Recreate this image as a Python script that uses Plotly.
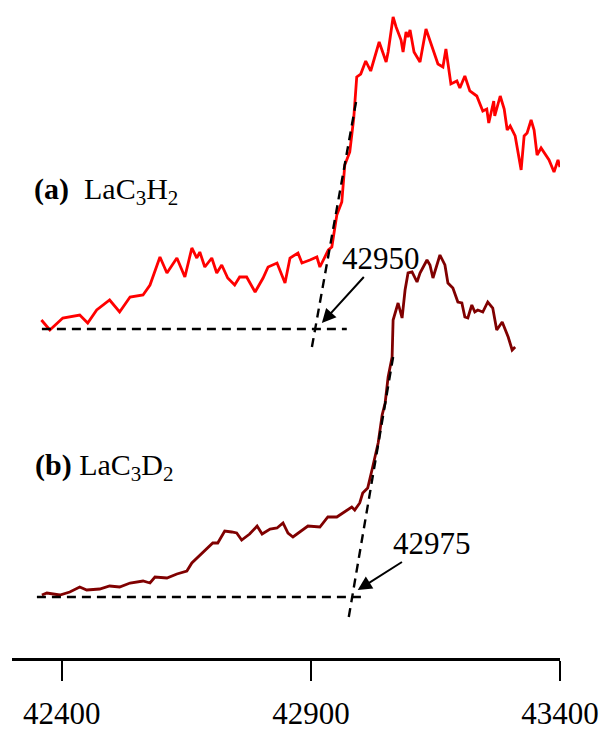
import plotly.graph_objects as go

# ---- data (wavenumber, cm^-1 ; intensity, arb. units) ----
a_x = [42359, 42376, 42402, 42436, 42452, 42470, 42496, 42516, 42537, 42563, 42577, 42597,
       42611, 42631, 42647, 42661, 42671, 42677, 42687, 42701, 42711, 42721, 42733, 42747,
       42757, 42771, 42788, 42804, 42814, 42832, 42848, 42858, 42874, 42882, 42898, 42912,
       42918, 42935, 42942, 42952, 42962, 42968, 42978, 42986, 42992, 43000, 43010, 43020,
       43037, 43051, 43055, 43065, 43071, 43081, 43085, 43091, 43095, 43099, 43107, 43119,
       43131, 43141, 43155, 43165, 43171, 43181, 43193, 43199, 43209, 43219, 43233, 43245,
       43253, 43257, 43267, 43269, 43280, 43288, 43294, 43300, 43310, 43322, 43328, 43334,
       43342, 43348, 43354, 43362, 43368, 43378, 43388, 43396, 43400]
a_y = [33.8, 32.8, 34.0, 34.3, 33.5, 34.8, 35.8, 34.6, 36.1, 36.3, 37.3, 40.1,
       38.5, 40.0, 38.1, 41.0, 40.0, 40.6, 39.1, 40.0, 38.5, 39.3, 38.0, 37.3,
       38.1, 38.1, 36.6, 38.0, 39.1, 39.5, 37.5, 40.0, 40.5, 39.5, 39.8, 40.1,
       39.1, 40.8, 41.1, 44.3, 45.6, 49.3, 50.6, 54.0, 58.1, 58.4, 59.7, 58.7,
       61.6, 59.6, 60.6, 64.1, 63.1, 61.8, 60.6, 62.6, 62.1, 62.8, 60.6, 59.6,
       62.9, 61.4, 59.4, 59.1, 60.9, 57.4, 57.7, 57.0, 58.2, 56.7, 56.2, 54.7,
       54.9, 53.5, 55.7, 54.2, 56.2, 54.9, 52.8, 53.2, 52.2, 48.8, 52.2, 52.5,
       53.8, 52.8, 50.3, 51.0, 50.5, 49.8, 48.6, 49.8, 49.1]

b_x = [42360, 42370, 42396, 42416, 42436, 42450, 42476, 42496, 42516, 42537, 42563, 42577,
       42587, 42611, 42631, 42651, 42661, 42677, 42691, 42703, 42713, 42727, 42741, 42751,
       42761, 42777, 42792, 42802, 42818, 42832, 42844, 42854, 42864, 42878, 42894, 42918,
       42934, 42952, 42968, 42982, 42988, 42998, 43004, 43014, 43024, 43035, 43043, 43049,
       43055, 43063, 43065, 43075, 43083, 43089, 43095, 43103, 43113, 43119, 43133, 43139,
       43145, 43159, 43169, 43175, 43185, 43195, 43203, 43209, 43215, 43223, 43229, 43235,
       43245, 43255, 43265, 43273, 43284, 43296, 43304, 43310]
b_y = [6.3, 6.5, 6.3, 6.6, 7.1, 6.8, 6.9, 7.2, 7.1, 7.5, 7.7, 7.5,
       8.1, 8.0, 8.4, 8.7, 9.5, 10.3, 11.0, 11.5, 11.5, 12.7, 12.6, 12.5,
       11.8, 12.4, 13.2, 12.4, 12.9, 13.0, 13.5, 12.5, 12.1, 12.6, 13.2, 13.1,
       14.1, 14.1, 14.6, 15.1, 14.8, 15.5, 16.5, 17.0, 19.1, 21.5, 24.3, 25.5,
       28.1, 30.1, 33.8, 35.5, 34.0, 36.8, 38.5, 38.6, 37.6, 38.5, 39.8, 39.3,
       38.0, 40.3, 39.3, 37.5, 37.0, 35.6, 35.5, 34.1, 34.0, 35.3, 34.6, 34.8,
       34.6, 35.6, 35.0, 32.8, 33.6, 32.1, 30.8, 31.1]

# onset construction lines
a_base_x = [42360, 42972]
a_base_y = [32.9, 32.9]
a_edge_x = [42902, 42992]
a_edge_y = [31.1, 56.0]
b_base_x = [42350, 43008]
b_base_y = [6.1, 6.1]
b_edge_x = [42976, 43065]
b_edge_y = [4.1, 30.1]

onset_a = "42950"
onset_b = "42975"
tick_vals = [42400, 42900, 43400]
tick_text = ["42400", "42900", "43400"]

FONT = "Liberation Serif, Times New Roman, serif"

fig = go.Figure()
fig.add_trace(go.Scatter(x=a_x, y=a_y, mode="lines",
                         line=dict(color="#FF0000", width=2.8), showlegend=False))
fig.add_trace(go.Scatter(x=b_x, y=b_y, mode="lines",
                         line=dict(color="#800000", width=2.8), showlegend=False))
for xs, ys in [(a_base_x, a_base_y), (a_edge_x, a_edge_y), (b_base_x, b_base_y), (b_edge_x, b_edge_y)]:
    fig.add_trace(go.Scatter(x=xs, y=ys, mode="lines",
                             line=dict(color="black", width=2.4, dash="9px,6px"),
                             showlegend=False))

# onset labels with arrows pointing to the onset
fig.add_annotation(x=42922, y=33.5, ax=43041, ay=40.0, xref="x", yref="y",
                   axref="x", ayref="y", text=onset_a, showarrow=True,
                   arrowhead=2, arrowsize=1.4, arrowwidth=2, arrowcolor="black",
                   font=dict(family=FONT, size=31, color="black"))
fig.add_annotation(x=42994, y=6.8, ax=43143, ay=11.5, xref="x", yref="y",
                   axref="x", ayref="y", text=onset_b, showarrow=True,
                   arrowhead=2, arrowsize=1.4, arrowwidth=2, arrowcolor="black",
                   font=dict(family=FONT, size=31, color="black"))
# species labels
fig.add_annotation(x=42340, y=46.7, xanchor="left",
                   text="<b>(a)</b>\u00a0\u00a0LaC<sub>3</sub>H<sub>2</sub>", showarrow=False,
                   font=dict(family=FONT, size=30, color="black"))
fig.add_annotation(x=42342, y=19.1, xanchor="left",
                   text="<b>(b)</b> LaC<sub>3</sub>D<sub>2</sub>", showarrow=False,
                   font=dict(family=FONT, size=30, color="black"))

fig.update_xaxes(range=[42300, 43400], showgrid=False, zeroline=False,
                 showline=True, linecolor="black", linewidth=2.5,
                 ticks="outside", ticklen=20, tickwidth=2, tickcolor="black",
                 tickvals=tick_vals, ticktext=tick_text, ticklabelstandoff=6,
                 tickfont=dict(family=FONT, size=31, color="black"))
fig.update_yaxes(range=[0, 65.8], visible=False)
fig.update_layout(width=603, height=733, margin=dict(l=12, r=43, t=0, b=75),
                  plot_bgcolor="white", paper_bgcolor="white")
fig.write_html("out.html")
